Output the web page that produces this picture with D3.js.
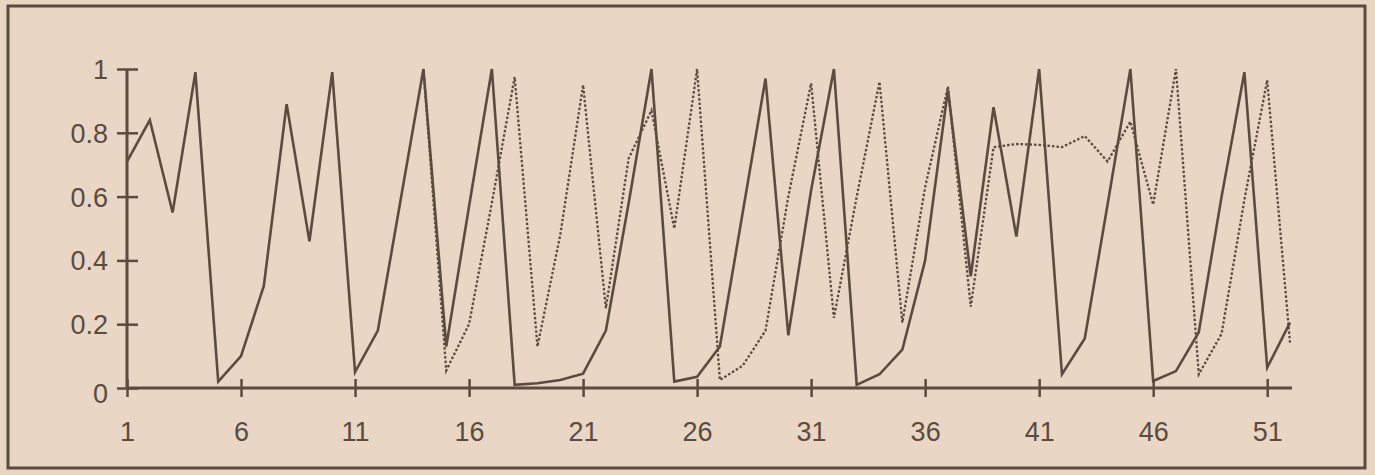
<!DOCTYPE html>
<html>
<head>
<meta charset="utf-8">
<script src="https://cdn.jsdelivr.net/npm/d3@7"></script>
<style>
  html, body { margin: 0; padding: 0; background: #e9d7c4; }
  svg { display: block; }
</style>
</head>
<body>
<svg id="chart" width="1375" height="475"></svg>
<script>
// ---- data ----
const weeks = d3.range(1, 53);
const solidValues = [
  0.71, 0.84, 0.55, 0.99, 0.02, 0.10, 0.32, 0.89, 0.46, 0.99,
  0.05, 0.18, 0.59, 1.00, 0.13, 0.57, 1.00, 0.01, 0.015, 0.025,
  0.045, 0.18, 0.58, 1.00, 0.02, 0.035, 0.13, 0.55, 0.97, 0.165,
  0.62, 1.00, 0.01, 0.043, 0.12, 0.40, 0.935, 0.35, 0.88, 0.475,
  1.00, 0.043, 0.155, 0.575, 1.00, 0.022, 0.053, 0.175, 0.60, 0.99,
  0.064, 0.205
];
const dottedStart = 14;
const dottedValues = [
  1.00, 0.055, 0.20, 0.58, 0.975, 0.13, 0.48, 0.95, 0.25, 0.72,
  0.87, 0.50, 1.00, 0.025, 0.07, 0.18, 0.60, 0.955, 0.22, 0.60,
  0.96, 0.205, 0.63, 0.945, 0.255, 0.755, 0.765, 0.762, 0.755, 0.79,
  0.71, 0.835, 0.575, 1.00, 0.043, 0.17, 0.59, 0.965, 0.142
];
const xTicks = [1, 6, 11, 16, 21, 26, 31, 36, 41, 46, 51];
const yTicks = [0, 0.2, 0.4, 0.6, 0.8, 1];

// ---- drawing ----
const ink = "#5b4b40";
const svg = d3.select("#chart");

svg.append("rect")
  .attr("x", 8).attr("y", 6).attr("width", 1357).attr("height", 462)
  .attr("fill", "#e9d6c4").attr("stroke", ink).attr("stroke-width", 3);

const x = d3.scaleLinear().domain([1, 52]).range([127, 1290]);
const y = d3.scaleLinear().domain([0, 1]).range([388, 69]);

const solid = weeks.map((w, i) => ({ w, v: solidValues[i] }));
const dotted = dottedValues.map((v, i) => ({ w: dottedStart + i, v }));

const line = d3.line().x(d => x(d.w)).y(d => y(d.v));

svg.append("path").datum(dotted)
  .attr("d", line).attr("fill", "none")
  .attr("stroke", ink).attr("stroke-width", 2.3)
  .attr("stroke-dasharray", "2.5,2");

svg.append("path").datum(solid)
  .attr("d", line).attr("fill", "none")
  .attr("stroke", ink).attr("stroke-width", 2.6)
  .attr("stroke-linejoin", "miter");

// axes
const xAxis = d3.axisBottom(x).tickValues(xTicks).tickSize(0).tickFormat(d3.format("d"));
const gx = svg.append("g").attr("transform", `translate(0,${y(0)})`).call(xAxis);
gx.select(".domain").remove();
gx.append("line").attr("x1", x(1)).attr("x2", x(52) + 2)
  .attr("stroke", ink).attr("stroke-width", 3);
gx.selectAll(".tick").append("line")
  .attr("y1", -9).attr("y2", 9).attr("stroke", ink).attr("stroke-width", 2.5);
gx.selectAll(".tick text")
  .attr("y", 0).attr("dy", "1.95em")
  .attr("fill", ink)
  .attr("font-family", "'Liberation Sans', Arial, sans-serif")
  .attr("font-size", 27);

const yAxis = d3.axisLeft(y).tickValues(yTicks).tickSize(0)
  .tickFormat(d => d === 0 || d === 1 ? String(d) : d3.format(".1f")(d));
const gy = svg.append("g").attr("transform", `translate(${x(1)},0)`).call(yAxis);
gy.select(".domain").remove();
gy.append("line").attr("y1", y(1)).attr("y2", y(0))
  .attr("stroke", ink).attr("stroke-width", 3);
gy.selectAll(".tick").append("line")
  .attr("x1", -10).attr("x2", 11).attr("stroke", ink).attr("stroke-width", 2.5);
gy.selectAll(".tick text")
  .attr("x", -19)
  .attr("dy", d => d === 0 ? "0.55em" : "0.35em")
  .attr("fill", ink)
  .attr("font-family", "'Liberation Sans', Arial, sans-serif")
  .attr("font-size", 27);
</script>
</body>
</html>
